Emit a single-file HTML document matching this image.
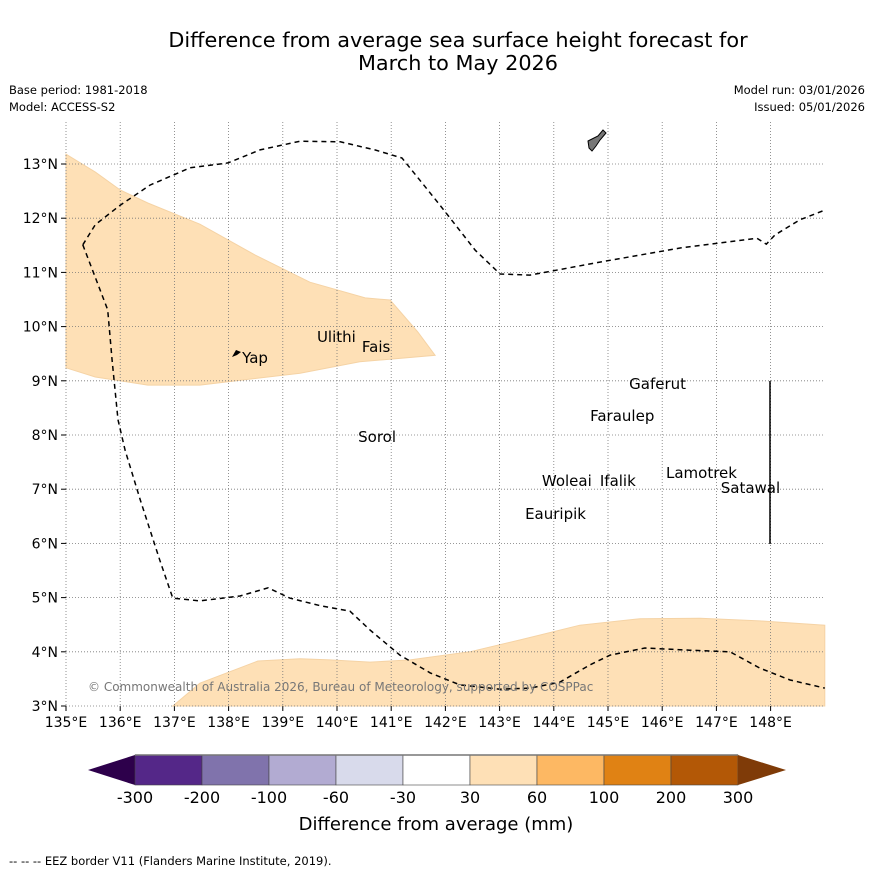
<!DOCTYPE html>
<html><head><meta charset="utf-8"><style>
body{margin:0;background:#fff;font-family:"Liberation Sans","DejaVu Sans",sans-serif}
svg text{font-family:"DejaVu Sans","Liberation Sans",sans-serif}
</style></head><body>
<svg id="s" width="873" height="873" xmlns="http://www.w3.org/2000/svg">
<rect width="873" height="873" fill="#fff"/>
<text x="458" y="47" font-size="20.8" text-anchor="middle">Difference from average sea surface height forecast for</text>
<text x="458" y="70" font-size="20.8" text-anchor="middle">March to May 2026</text>
<text x="9" y="94" font-size="11.5">Base period: 1981-2018</text>
<text x="9" y="111" font-size="11.5">Model: ACCESS-S2</text>
<text x="865" y="94" font-size="11.5" text-anchor="end">Model run: 03/01/2026</text>
<text x="865" y="111" font-size="11.5" text-anchor="end">Issued: 05/01/2026</text>
<g id="map"></g>
<g id="cb"></g>
<text x="436" y="830" font-size="18" text-anchor="middle">Difference from average (mm)</text>
<text x="9" y="865" font-size="11.5">--  --  -- EEZ border V11 (Flanders Marine Institute, 2019).</text>
</svg>
<script>
const lonTicks=[135,136,137,138,139,140,141,142,143,144,145,146,147,148];
const latTicks=[3,4,5,6,7,8,9,10,11,12,13];
const anomNorth=[[135,13.18],[135.54,12.85],[136,12.52],[136.51,12.28],[137.47,11.89],[138.49,11.32],[139.5,10.82],[140.52,10.53],[140.98,10.49],[141.49,9.9],[141.81,9.47],[140.42,9.35],[139.32,9.14],[137.47,8.92],[136.51,8.92],[135.54,9.07],[135,9.24]];
const anomSouth=[[136.97,3],[137.47,3.42],[138.54,3.83],[139.32,3.87],[139.87,3.85],[140.61,3.81],[141.35,3.85],[142.45,4],[143.38,4.22],[144.48,4.49],[145.59,4.61],[146.7,4.62],[147.8,4.57],[149,4.49],[149,3]];
const eezNorth=[[135.31,11.51],[135.54,11.88],[136,12.24],[136.55,12.61],[137.29,12.93],[137.99,13.02],[138.58,13.26],[139.32,13.42],[140.06,13.41],[140.7,13.26],[141.2,13.11],[141.9,12.24],[142.55,11.41],[143.01,10.97],[143.56,10.95],[144.85,11.19],[146.33,11.45],[147.75,11.63],[147.92,11.52],[148.08,11.69],[148.54,11.97],[149,12.15]];
const eezSouth=[[135.31,11.51],[135.77,10.31],[135.85,9.38],[135.96,8.28],[136.09,7.72],[136.37,6.8],[136.73,5.69],[136.97,4.99],[137.47,4.94],[138.21,5.03],[138.73,5.18],[139.13,4.99],[139.69,4.85],[140.24,4.75],[140.61,4.4],[141.16,3.94],[141.72,3.61],[142.27,3.39],[143.01,3.31],[143.56,3.33],[144.11,3.44],[144.67,3.76],[145.04,3.94],[145.68,4.07],[146.51,4.03],[147.25,4],[147.8,3.7],[148.36,3.48],[149,3.33]];
const islandNames=["Yap","Ulithi","Fais","Sorol","Gaferut","Faraulep","Woleai","Ifalik","Lamotrek","Satawal","Eauripik"];
const islandLon=[138.25,139.63,140.46,140.39,145.39,144.67,143.78,144.85,146.07,147.08,143.47];
const islandLat=[9.55,9.94,9.75,8.09,9.07,8.48,7.28,7.28,7.43,7.15,6.67];
const cbBounds=["-300","-200","-100","-60","-30","30","60","100","200","300"];
const cbColors=["#542788","#8073ac","#b2abd2","#d8daeb","#ffffff","#fee0b6","#fdb863","#e08214","#b35806"];
const NS="http://www.w3.org/2000/svg";
const X=lon=>66+(lon-135)*54.2, Y=lat=>164+(13-lat)*54.2;
function mk(t,a,p){const e=document.createElementNS(NS,t);for(const k in a)e.setAttribute(k,a[k]);p.appendChild(e);return e;}
const map=document.getElementById('map');
const pts=a=>a.map(p=>X(p[0]).toFixed(1)+','+Y(p[1]).toFixed(1)).join(' ');
let e=mk('polygon',{points:pts(anomNorth),fill:'#fee0b6',stroke:'#f5d3a5','stroke-width':1},map);


e=mk('polygon',{points:pts(anomSouth),fill:'#fee0b6',stroke:'#f5d3a5','stroke-width':1},map);


lonTicks.forEach(l=>{const x=X(l);
 const g=mk('line',{x1:x,x2:x,y1:122,y2:706,stroke:'#777','stroke-width':0.8,'stroke-dasharray':'1,2'},map);
 
 
 mk('line',{x1:x,x2:x,y1:706,y2:711,stroke:'#000'},map);
 const t=mk('text',{x:x,y:727,'font-size':14,'text-anchor':'middle'},map);t.textContent=l+'°E';
 
 });
latTicks.forEach(l=>{const y=Y(l);
 const g=mk('line',{x1:66,x2:825,y1:y,y2:y,stroke:'#777','stroke-width':0.8,'stroke-dasharray':'1,2'},map);
 
 
 mk('line',{x1:61,x2:66,y1:y,y2:y,stroke:'#000'},map);
 const t=mk('text',{x:58,y:y+5,'font-size':14,'text-anchor':'end'},map);t.textContent=l+'°N';
 
 });
[eezNorth,eezSouth].forEach(a=>{const p=mk('polyline',{points:pts(a),fill:'none',stroke:'#000','stroke-width':1.5,'stroke-dasharray':'5,4'},map);
 
 });
e=mk('line',{x1:770,x2:770,y1:381,y2:544,stroke:'#000','stroke-width':1.5},map);


e=mk('path',{d:'M588,141 L598,136 L603,130 L606,133 L600,140 L596,146 L592,151 L589,148 Z',fill:'#777',stroke:'#000','stroke-width':1},map);


e=mk('path',{d:'M232,357 L236,350 L241,352 L237,355 Z',fill:'#000'},map);


islandNames.forEach((n,i)=>{const t=mk('text',{x:X(islandLon[i]),y:Y(islandLat[i])+12,'font-size':15},map);t.textContent=n;
 
 });
e=mk('text',{x:88,y:691,'font-size':12,fill:'#777'},map);e.textContent='© Commonwealth of Australia 2026, Bureau of Meteorology, supported by COSPPac';


const cb=document.getElementById('cb');
const c0=135,cw=67,cy=755,ch=30;
e=mk('polygon',{points:`88,770 ${c0},${cy} ${c0},${cy+ch}`,fill:'#2d004b'},cb);


cbColors.forEach((c,i)=>{const r=mk('rect',{x:c0+i*cw,y:cy,width:cw,height:ch,fill:c,stroke:'#444','stroke-width':0.6},cb);
 
 });
e=mk('polygon',{points:`${c0+9*cw},${cy} 786,770 ${c0+9*cw},${cy+ch}`,fill:'#7f3b08'},cb);


mk('line',{x1:c0,x2:c0+9*cw,y1:cy,y2:cy,stroke:'#777','stroke-width':1.5},cb);
cbBounds.forEach((b,i)=>{const t=mk('text',{x:c0+i*cw,y:803,'font-size':16,'text-anchor':'middle'},cb);t.textContent=b;
 
 });
</script>
</body></html>
